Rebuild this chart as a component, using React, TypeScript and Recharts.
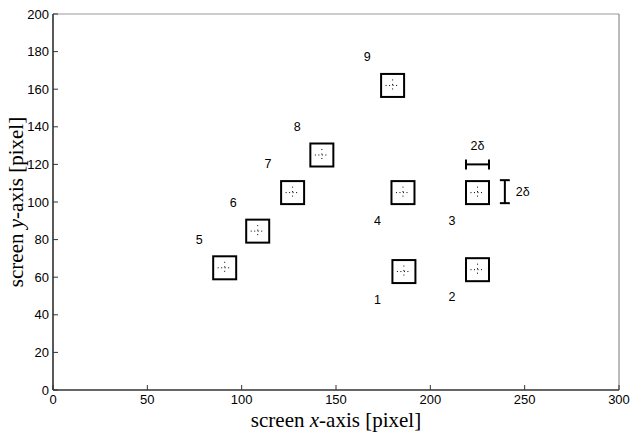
import { ScatterChart, Scatter, XAxis, YAxis, ReferenceLine } from "recharts"

// marker centres (screen pixels)
const pointX = [186, 225, 225, 185.5, 91, 108.5, 127, 142.5, 180]
const pointY = [63, 64, 105, 105, 65, 84.5, 105, 125, 162]

// number labels next to the markers
const labelText = ["1", "2", "3", "4", "5", "6", "7", "8", "9"]
const labelX = [172, 211.5, 211.5, 172, 77.5, 95.5, 114, 129.5, 166.5]
const labelY = [48, 49.5, 90, 90, 80, 99.5, 120, 140, 177]

// 2δ brackets
const bracketX = [225, 239.5]
const bracketY = [120, 105.5]
const bracketDir = ["h", "v"]

const xTicks = [0, 50, 100, 150, 200, 250, 300]
const yTicks = [0, 20, 40, 60, 80, 100, 120, 140, 160, 180, 200]

const points = pointX.map((x, i) => ({ x, y: pointY[i] }))
const labels = labelText.map((t, i) => ({ x: labelX[i], y: labelY[i], t }))
const brackets = bracketX.map((x, i) => ({ x, y: bracketY[i], dir: bracketDir[i] }))

const SANS = "'Liberation Sans', Arial, Helvetica, sans-serif"
const SERIF = "'Liberation Serif', 'Times New Roman', serif"

function SquareMark(props: any) {
  const { cx, cy } = props
  const h = 11.5
  return (
    <g>
      <rect x={cx - h} y={cy - h} width={2 * h} height={2 * h} fill="#fff" stroke="#000" strokeWidth={2} />
      <line x1={cx} y1={cy - 6} x2={cx} y2={cy + 6} stroke="#000" strokeWidth={1} strokeDasharray="1 3.5" />
      <line x1={cx - 7} y1={cy} x2={cx + 7} y2={cy} stroke="#000" strokeWidth={1} strokeDasharray="1 2.5" />
    </g>
  )
}

function NumLabel(props: any) {
  const { cx, cy, payload } = props
  return (
    <text x={cx} y={cy} textAnchor="middle" dominantBaseline="central" fontSize={12.5} fontFamily={SANS} fill="#000">
      {payload.t}
    </text>
  )
}

function Bracket(props: any) {
  const { cx, cy, payload } = props
  const h = 11.5
  const c = 5
  if (payload.dir === "h") {
    return (
      <g stroke="#000" strokeWidth={2}>
        <line x1={cx - h} y1={cy} x2={cx + h} y2={cy} />
        <line x1={cx - h} y1={cy - c} x2={cx - h} y2={cy + c} />
        <line x1={cx + h} y1={cy - c} x2={cx + h} y2={cy + c} />
        <text x={cx} y={cy - 14} textAnchor="middle" fontSize={12.5} fontFamily={SANS} stroke="none" fill="#000">
          2δ
        </text>
      </g>
    )
  }
  return (
    <g stroke="#000" strokeWidth={2}>
      <line x1={cx} y1={cy - h} x2={cx} y2={cy + h} />
      <line x1={cx - c} y1={cy - h} x2={cx + c} y2={cy - h} />
      <line x1={cx - c} y1={cy + h} x2={cx + c} y2={cy + h} />
      <text x={cx + 11} y={cy + 4} fontSize={12.5} fontFamily={SANS} stroke="none" fill="#000">
        2δ
      </text>
    </g>
  )
}

function XTick(props: any) {
  const { x, y, payload } = props
  return (
    <g>
      <line x1={x} y1={y} x2={x} y2={y - 5} stroke="#333" />
      <text x={x} y={y + 14} textAnchor="middle" fontSize={13} fontFamily={SANS} fill="#000">
        {payload.value}
      </text>
    </g>
  )
}

function YTick(props: any) {
  const { x, y, payload } = props
  return (
    <g>
      <line x1={x} y1={y} x2={x + 5} y2={y} stroke="#333" />
      <text x={x - 4} y={y + 4.5} textAnchor="end" fontSize={13} fontFamily={SANS} fill="#000">
        {payload.value}
      </text>
    </g>
  )
}

function XTitle(props: any) {
  const { viewBox } = props
  const cx = viewBox.x + viewBox.width / 2
  return (
    <text x={cx} y={427} textAnchor="middle" fontSize={21} fontFamily={SERIF} fill="#000">
      screen <tspan fontStyle="italic">x</tspan>-axis [pixel]
    </text>
  )
}

function YTitle(props: any) {
  const { viewBox } = props
  const cy = viewBox.y + viewBox.height / 2
  return (
    <text x={23} y={cy} transform={`rotate(-90, 23, ${cy})`} textAnchor="middle" fontSize={21} fontFamily={SERIF} fill="#000">
      screen <tspan fontStyle="italic">y</tspan>-axis [pixel]
    </text>
  )
}

export default function App() {
  return (
    <div style={{ position: "absolute", left: 0, top: 0, background: "#fff" }}>
      <ScatterChart width={634} height={433} margin={{ top: 14, right: 15, bottom: 0, left: 0 }}>
        <XAxis
          type="number"
          dataKey="x"
          domain={[0, 300]}
          ticks={xTicks}
          height={43}
          tickSize={0}
          tickMargin={0}
          tickLine={false}
          axisLine={{ stroke: "#333", strokeWidth: 1.5 }}
          tick={<XTick />}
          label={<XTitle />}
          allowDataOverflow
        />
        <YAxis
          type="number"
          dataKey="y"
          domain={[0, 200]}
          ticks={yTicks}
          width={53}
          tickSize={0}
          tickMargin={0}
          tickLine={false}
          axisLine={{ stroke: "#222", strokeWidth: 1.5 }}
          tick={<YTick />}
          label={<YTitle />}
          allowDataOverflow
        />
        <ReferenceLine y={200} stroke="#999" strokeWidth={1} />
        <ReferenceLine x={300} stroke="#777" strokeWidth={1} />
        <Scatter data={points} shape={<SquareMark />} isAnimationActive={false} />
        <Scatter data={labels} shape={<NumLabel />} isAnimationActive={false} />
        <Scatter data={brackets} shape={<Bracket />} isAnimationActive={false} />
      </ScatterChart>
    </div>
  )
}
